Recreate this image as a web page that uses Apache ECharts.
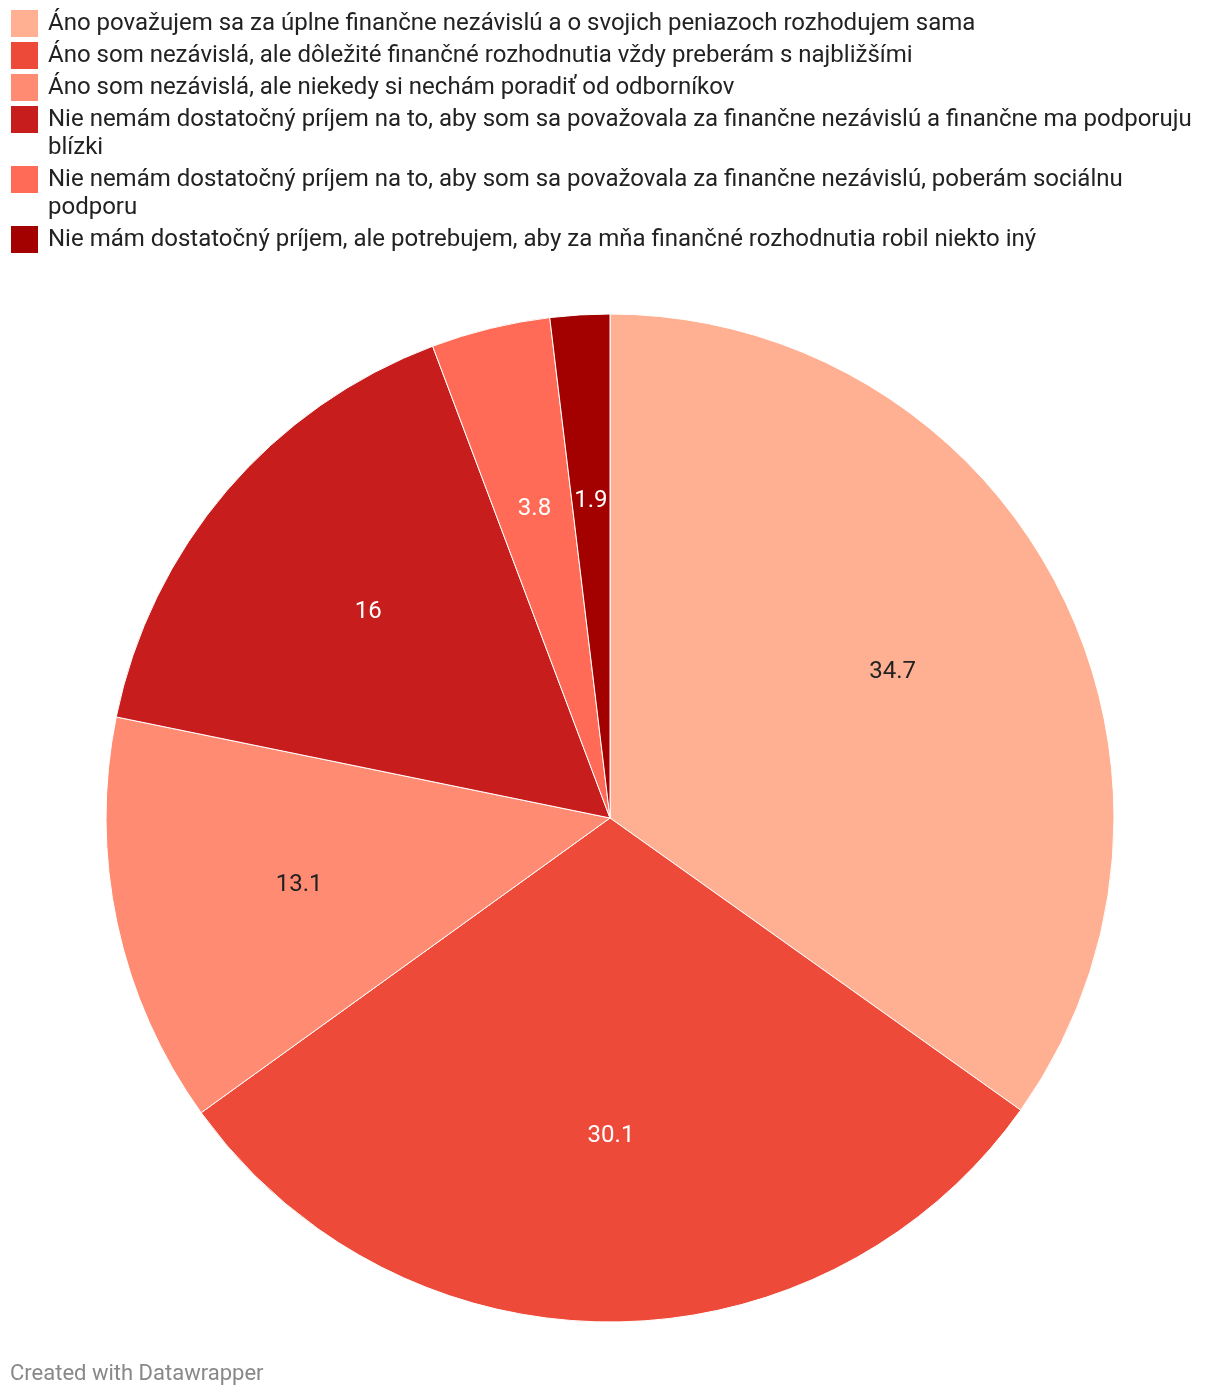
<!DOCTYPE html>
<html>
<head>
<meta charset="utf-8">
<script src="https://cdn.jsdelivr.net/npm/echarts@6/dist/echarts.min.js"></script>
<style>
html,body{margin:0;padding:0;background:#fff;}
#chart{width:1220px;height:1398px;}
</style>
</head>
<body>
<div id="chart"></div>
<script>
const categories = [
  "Áno považujem sa za úplne finančne nezávislú a o svojich peniazoch rozhodujem sama",
  "Áno som nezávislá, ale dôležité finančné rozhodnutia vždy preberám s najbližšími",
  "Áno som nezávislá, ale niekedy si nechám poradiť od odborníkov",
  "Nie nemám dostatočný príjem na to, aby som sa považovala za finančne nezávislú a finančne ma podporuju blízki",
  "Nie nemám dostatočný príjem na to, aby som sa považovala za finančne nezávislú, poberám sociálnu podporu",
  "Nie mám dostatočný príjem, ale potrebujem, aby za mňa finančné rozhodnutia robil niekto iný"
];
const values = [34.7, 30.1, 13.1, 16, 3.8, 1.9];
const colors = ["#ffb092", "#ee4a39", "#ff8c72", "#c81d1d", "#ff6b57", "#a30000"];
const labelColors = ["#222", "#fff", "#222", "#fff", "#fff", "#fff"];

const FONT = "Roboto, 'Noto Sans', sans-serif";
const FS = 24;
const chart = echarts.init(document.getElementById('chart'), null, {renderer: 'canvas'});

// wrap legend text
const ctx = document.createElement('canvas').getContext('2d');
ctx.font = FS + "px " + FONT;
function wrap(text, maxW) {
  const words = text.split(' ');
  const lines = [];
  let cur = '';
  words.forEach(w => {
    const t = cur ? cur + ' ' + w : w;
    if (ctx.measureText(t).width > maxW && cur) { lines.push(cur); cur = w; }
    else cur = t;
  });
  if (cur) lines.push(cur);
  return lines;
}
const legendEls = [];
let yPos = 10;
categories.forEach((c, i) => {
  const lines = wrap(c, 1150);
  legendEls.push({type: 'rect', left: 11, top: yPos, shape: {width: 27, height: 27}, style: {fill: colors[i]}, silent: true});
  legendEls.push({type: 'text', x: 48, y: yPos - 0.5, style: {text: lines.join('\n'), font: FS + "px " + FONT, fill: '#222', lineHeight: 28, verticalAlign: 'top'}, silent: true});
  yPos += lines.length * 28 + 4;
});
legendEls.push({type: 'text', left: 10, top: 1363, style: {text: 'Created with Datawrapper', font: "22px " + FONT, fill: '#888'}, silent: true});

const data = categories.map((c, i) => ({name: c, value: values[i], itemStyle: {color: colors[i]}}));
const labelData = categories.map((c, i) => ({name: c, value: values[i], label: {color: labelColors[i]}}));

chart.setOption({
  animation: false,
  graphic: legendEls,
  series: [
    {
      type: 'pie', center: [610, 818], radius: [0, 504], startAngle: 90, clockwise: true,
      data: data, label: {show: false}, labelLine: {show: false},
      itemStyle: {borderColor: '#fff', borderWidth: 1}, emphasis: {disabled: true}, silent: true
    },
    {
      type: 'pie', center: [610, 818], radius: [126, 504], startAngle: 90, clockwise: true,
      data: labelData, itemStyle: {color: 'rgba(0,0,0,0)', borderWidth: 0},
      label: {show: true, position: 'inside', formatter: p => String(p.value), fontFamily: FONT, fontSize: FS},
      labelLine: {show: false}, emphasis: {disabled: true}, silent: true
    }
  ]
});
</script>
</body>
</html>
